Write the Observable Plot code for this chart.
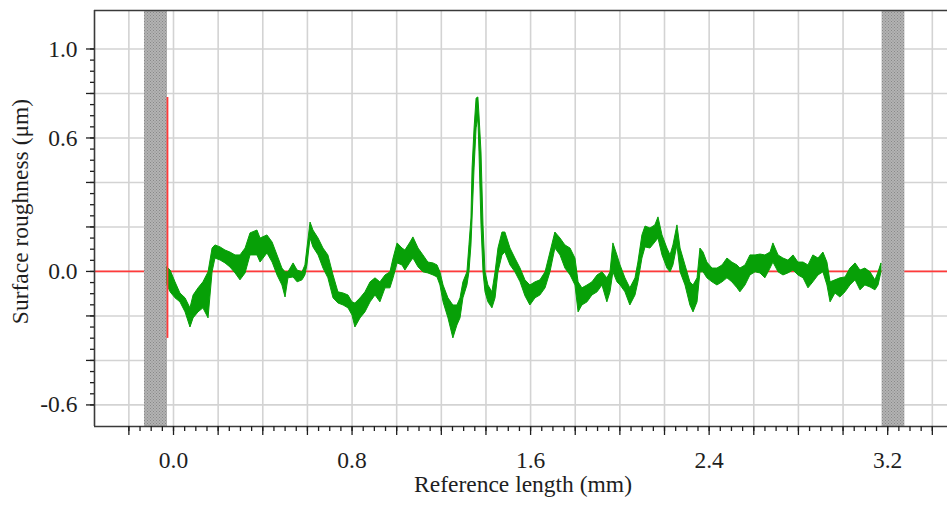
<!DOCTYPE html>
<html>
<head>
<meta charset="utf-8">
<script src="https://cdn.jsdelivr.net/npm/d3@7"></script>
<script src="https://cdn.jsdelivr.net/npm/@observablehq/plot@0.6"></script>
<style>
html, body { margin: 0; padding: 0; background: #fff; }
#chart { width: 947px; height: 511px; overflow: hidden; }
</style>
</head>
<body>
<svg width="0" height="0" style="position:absolute">
  <defs>
    <pattern id="hatch" width="3" height="3" patternUnits="userSpaceOnUse">
      <rect width="3" height="3" fill="#b3b3b3"/>
      <rect x="0" y="0" width="1" height="1" fill="#888888"/>
      <rect x="1.5" y="1.5" width="1" height="1" fill="#888888"/>
    </pattern>
  </defs>
</svg>
<div id="chart"></div>
<script>
// ---- data ----
// Reference length positions (mm)
const profileX = [
  -0.027,-0.013,0.009,0.031,0.054,0.076,0.090,0.112,0.134,0.157,
  0.175,0.188,0.211,0.233,0.255,0.278,0.300,0.323,0.345,0.376,
  0.390,0.421,0.444,0.466,0.488,0.502,0.515,0.538,0.556,0.578,
  0.591,0.600,0.614,0.627,0.650,0.672,0.694,0.717,0.739,0.762,
  0.784,0.802,0.815,0.838,0.860,0.883,0.905,0.927,0.950,0.972,
  0.986,1.004,1.026,1.039,1.062,1.075,1.098,1.120,1.142,1.165,
  1.183,1.196,1.210,1.232,1.254,1.272,1.286,1.299,1.317,1.326,
  1.335,1.340,1.349,1.358,1.366,1.371,1.380,1.389,1.398,1.411,
  1.429,1.443,1.456,1.474,1.487,1.510,1.532,1.555,1.577,1.599,
  1.622,1.644,1.667,1.689,1.711,1.734,1.756,1.779,1.801,1.815,
  1.832,1.855,1.877,1.900,1.922,1.944,1.958,1.971,1.989,2.003,
  2.025,2.047,2.070,2.083,2.101,2.115,2.137,2.159,2.173,2.191,
  2.213,2.227,2.240,2.258,2.272,2.294,2.316,2.330,2.348,2.361,
  2.375,2.392,2.415,2.437,2.460,2.482,2.504,2.527,2.540,2.563,
  2.585,2.608,2.630,2.652,2.675,2.688,2.711,2.733,2.755,2.778,
  2.800,2.823,2.845,2.867,2.890,2.912,2.930,2.944,2.966,2.988,
  3.011,3.033,3.056,3.078,3.100,3.123,3.145,3.159,3.172
];
// Upper envelope of the noisy roughness trace (µm)
const profileHi = [
  0.018,0.004,-0.049,-0.099,-0.121,-0.166,-0.108,-0.076,-0.049,-0.004,
  0.103,0.117,0.108,0.094,0.085,0.072,0.072,0.103,0.171,0.184,
  0.148,0.162,0.130,0.072,0.013,-0.004,-0.004,0.036,0.004,-0.004,
  0.027,0.103,0.220,0.184,0.148,0.103,0.072,-0.018,-0.094,-0.099,
  -0.108,-0.139,-0.144,-0.121,-0.094,-0.049,-0.031,-0.049,-0.018,-0.004,
  0.058,0.126,0.103,0.094,0.130,0.153,0.103,0.072,0.040,0.036,
  0.027,-0.004,-0.063,-0.121,-0.153,-0.153,-0.121,-0.049,-0.004,0.117,
  0.238,0.463,0.643,0.777,0.782,0.701,0.535,0.207,-0.004,-0.063,
  -0.094,-0.004,0.103,0.175,0.175,0.103,0.058,0.013,-0.040,-0.063,
  -0.049,-0.040,-0.004,0.085,0.175,0.148,0.117,0.103,0.058,-0.049,
  -0.076,-0.063,-0.049,-0.018,-0.004,-0.031,-0.004,0.126,0.072,0.027,
  -0.031,-0.076,-0.031,0.040,0.162,0.202,0.193,0.207,0.243,0.162,
  0.103,0.072,0.117,0.207,0.103,0.027,-0.049,-0.063,-0.031,0.103,
  0.085,0.040,0.013,0.013,0.027,0.058,0.040,0.027,0.013,0.027,
  0.072,0.072,0.076,0.072,0.085,0.126,0.072,0.058,0.049,0.072,
  0.040,0.040,0.027,0.072,0.058,0.085,0.040,-0.049,-0.040,-0.031,
  -0.027,0.013,0.036,0.004,0.013,-0.004,-0.040,-0.004,0.036
];
// Lower envelope of the noisy roughness trace (µm)
const profileLo = [
  -0.063,-0.094,-0.121,-0.139,-0.184,-0.252,-0.211,-0.184,-0.166,-0.211,
  -0.004,0.058,0.049,0.036,0.018,-0.009,-0.040,-0.009,0.072,0.072,
  0.040,0.081,0.040,-0.018,-0.063,-0.117,-0.031,-0.027,-0.049,-0.040,
  -0.018,0.027,0.148,0.108,0.072,0.013,-0.031,-0.121,-0.144,-0.153,
  -0.166,-0.198,-0.252,-0.211,-0.184,-0.139,-0.108,-0.139,-0.076,-0.076,
  -0.031,0.036,0.027,0.004,0.040,0.058,0.018,-0.004,-0.009,-0.018,
  -0.027,-0.063,-0.139,-0.211,-0.301,-0.243,-0.211,-0.121,-0.063,-0.004,
  0.117,0.238,0.463,0.643,0.688,0.535,0.207,-0.004,-0.094,-0.139,
  -0.166,-0.121,-0.004,0.072,0.085,0.027,-0.004,-0.049,-0.112,-0.153,
  -0.121,-0.108,-0.076,-0.004,0.103,0.072,0.013,-0.018,-0.063,-0.184,
  -0.153,-0.139,-0.108,-0.094,-0.063,-0.139,-0.094,-0.004,-0.049,-0.063,
  -0.094,-0.153,-0.108,-0.049,0.058,0.108,0.103,0.130,0.148,0.072,
  0.013,-0.004,0.027,0.117,-0.004,-0.063,-0.153,-0.184,-0.139,-0.004,
  -0.004,-0.031,-0.049,-0.063,-0.049,-0.031,-0.049,-0.076,-0.094,-0.063,
  -0.018,-0.004,-0.009,-0.031,0.013,0.040,-0.004,-0.018,-0.009,0.004,
  -0.018,-0.031,-0.076,-0.049,-0.018,-0.004,-0.063,-0.139,-0.099,-0.117,
  -0.094,-0.063,-0.040,-0.085,-0.063,-0.072,-0.085,-0.063,-0.004
];
// Excluded (grey) zones at both ends of the evaluation length (mm)
const bandStart = [-0.130, 3.175];
const bandEnd   = [-0.027, 3.277];
// Red vertical start marker
const markerX = -0.027;
const markerTop = 0.782;
const markerBottom = -0.301;
// Tick labels
const xTickLabels = [0.0, 0.8, 1.6, 2.4, 3.2];
const yTickLabels = [1.0, 0.6, 0.0, -0.6];
// Visible axis extents
const xDomain = [-0.354, 3.468];
const yDomain = [-0.697, 1.173];

// ---- derived tables ----
const profile = profileX.map((x, i) => ({x, hi: profileHi[i], lo: profileLo[i]}));
const bands = bandStart.map((s, i) => ({start: s, end: bandEnd[i]}));
const xMajor = d3.range(-1, 18).map(i => +(i * 0.2).toFixed(2));       // -0.2 .. 3.4
const xMinor = d3.range(-4, 69).map(i => +(i * 0.05).toFixed(2));      // -0.2 .. 3.4
const yMajor = d3.range(-3, 6).map(i => +(i * 0.2).toFixed(2));        // -0.6 .. 1.0
const yMinor = d3.range(-12, 21).map(i => +(i * 0.05).toFixed(2));     // -0.6 .. 1.0

const ink = "#1e1e1e";
const green = "#07a007";
const red = "#ff3a3a";
const grid = "#d3d3d3";

const chart = Plot.plot({
  width: 947,
  height: 511,
  marginLeft: 94,
  marginRight: 0,
  marginTop: 10,
  marginBottom: 85,
  x: {domain: xDomain, label: null},
  y: {domain: yDomain, label: null},
  style: {
    fontFamily: '"Liberation Serif", "Times New Roman", serif',
    fontSize: "23.5px",
    color: ink,
    background: "#fff"
  },
  marks: [
    Plot.gridX(xMajor, {stroke: grid, strokeOpacity: 1, strokeWidth: 1.6}),
    Plot.gridY(yMajor, {stroke: grid, strokeOpacity: 1, strokeWidth: 1.6}),
    Plot.ruleY([0], {stroke: red, strokeWidth: 1.8}),
    Plot.rect(bands, {x1: "start", x2: "end", fill: "url(#hatch)"}),
    Plot.areaY(profile, {x: "x", y1: "lo", y2: "hi", fill: green, stroke: green, strokeWidth: 1}),
    Plot.ruleX([markerX], {y1: markerTop, y2: markerBottom, stroke: red, strokeWidth: 1.8}),
    // frame lines (left, bottom, top)
    Plot.ruleX([xDomain[0]], {stroke: "#3a3a3a", strokeWidth: 1.6}),
    Plot.ruleY([yDomain[0]], {stroke: "#3a3a3a", strokeWidth: 1.6}),
    Plot.ruleY([yDomain[1]], {stroke: "#3a3a3a", strokeWidth: 1.6}),
    // axis ticks
    Plot.axisX(xMinor, {tickSize: 5, tickFormat: () => "", stroke: ink, strokeWidth: 1.3}),
    Plot.axisX(xMajor, {tickSize: 9, tickFormat: () => "", stroke: ink, strokeWidth: 1.3}),
    Plot.axisX(xTickLabels, {tickSize: 0, tickPadding: 25, tickFormat: d => d.toFixed(1), fill: ink, fontSize: 23.5}),
    Plot.axisY(yMinor, {tickSize: 4, tickFormat: () => "", stroke: ink, strokeWidth: 1.3}),
    Plot.axisY(yMajor, {tickSize: 8, tickFormat: () => "", stroke: ink, strokeWidth: 1.3}),
    Plot.axisY(yTickLabels, {tickSize: 0, tickPadding: 17, tickFormat: d => d.toFixed(1), fill: ink, fontSize: 23.5}),
    // axis titles
    Plot.text(["Reference length (mm)"], {text: d => d, frameAnchor: "bottom", textAnchor: "middle", dy: 65.5, dx: 2, fontSize: 23.5, fill: ink}),
    Plot.text(["Surface roughness (μm)"], {text: d => d, frameAnchor: "left", textAnchor: "middle", rotate: -90, dx: -74.5, dy: -7, fontSize: 23.5, fill: ink})
  ]
});
document.getElementById("chart").appendChild(chart);
</script>
</body>
</html>
